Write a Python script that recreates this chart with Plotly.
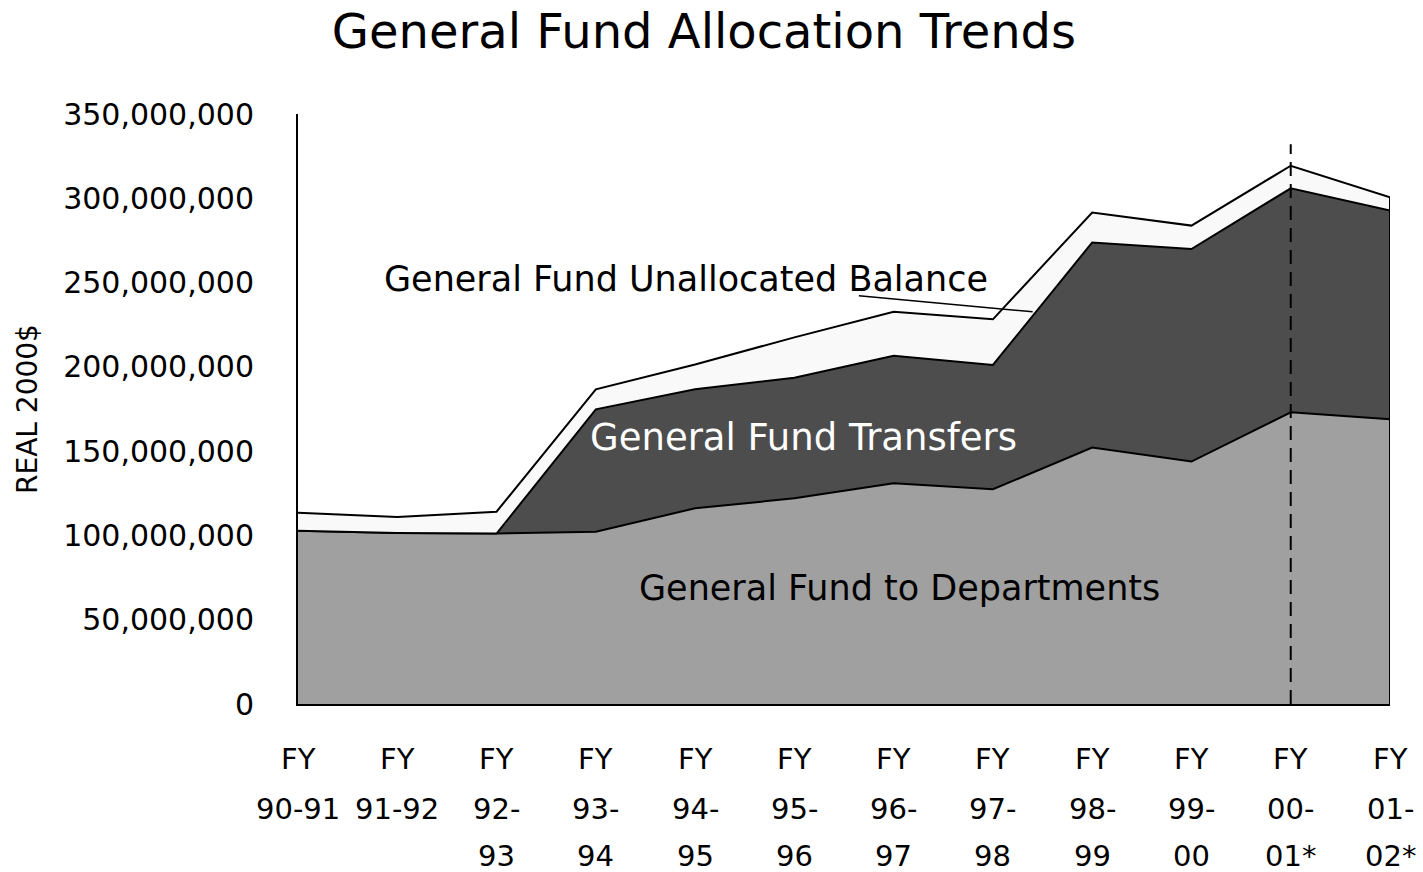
import plotly.graph_objects as go

categories = ["FY 90-91", "FY 91-92", "FY 92-93", "FY 93-94", "FY 94-95", "FY 95-96",
              "FY 96-97", "FY 97-98", "FY 98-99", "FY 99-00", "FY 00-01*", "FY 01-02*"]
label_lines = [["FY", "90-91", ""], ["FY", "91-92", ""], ["FY", "92-", "93"], ["FY", "93-", "94"],
               ["FY", "94-", "95"], ["FY", "95-", "96"], ["FY", "96-", "97"], ["FY", "97-", "98"],
               ["FY", "98-", "99"], ["FY", "99-", "00"], ["FY", "00-", "01*"], ["FY", "01-", "02*"]]

departments = [102_800_000, 101_400_000, 101_100_000, 102_200_000, 116_100_000, 122_000_000,
               130_900_000, 127_400_000, 152_100_000, 143_800_000, 173_000_000, 168_900_000]
transfers = [0, 0, 0, 72_600_000, 70_600_000, 71_600_000,
             75_700_000, 73_700_000, 121_700_000, 126_100_000, 132_900_000, 123_800_000]
unallocated = [10_700_000, 9_600_000, 13_000_000, 11_900_000, 14_700_000, 23_900_000,
               26_100_000, 27_100_000, 17_800_000, 13_900_000, 13_400_000, 7_900_000]

y_ticks = [0, 50_000_000, 100_000_000, 150_000_000, 200_000_000, 250_000_000, 300_000_000, 350_000_000]

FONT = "DejaVu Sans"
fig = go.Figure()
for name, vals, color in [("General Fund to Departments", departments, "#A0A0A0"),
                          ("General Fund Transfers", transfers, "#4D4D4D"),
                          ("General Fund Unallocated Balance", unallocated, "#F9F9F9")]:
    fig.add_trace(go.Scatter(x=categories, y=vals, name=name, stackgroup="one", mode="lines",
                             line=dict(color="black", width=2), fillcolor=color))

totals = [d + t + u for d, t, u in zip(departments, transfers, unallocated)]

# right edge border of the stacked areas
fig.add_shape(type="line", xref="x", yref="y", x0=len(categories) - 1, x1=len(categories) - 1,
              y0=0, y1=totals[-1], line=dict(color="black", width=2))
# dashed marker at FY 00-01
fig.add_shape(type="line", xref="x", yref="y", x0=10, x1=10, y0=0, y1=332_000_000,
              line=dict(color="black", width=2, dash="14px,8px"))
# leader line for the unallocated balance label
fig.add_shape(type="line", xref="x", yref="y", x0=5.65, x1=7.40, y0=242_200_000, y1=232_700_000,
              line=dict(color="black", width=1.5))

fig.add_annotation(x=3.91, y=252_000_000, text="General Fund Unallocated Balance", showarrow=False,
                   font=dict(family=FONT, size=35, color="black"))
fig.add_annotation(x=5.09, y=158_000_000, text="General Fund Transfers", showarrow=False,
                   font=dict(family=FONT, size=37, color="white"))
fig.add_annotation(x=6.06, y=69_000_000, text="General Fund to Departments", showarrow=False,
                   font=dict(family=FONT, size=35, color="black"))

shifts = [-55, -105, -152]
for i, lines in enumerate(label_lines):
    for line, s in zip(lines, shifts):
        if line:
            fig.add_annotation(x=i, y=0, xref="x", yref="paper", yanchor="middle", yshift=s,
                               text=line, showarrow=False,
                               font=dict(family=FONT, size=29, color="black"))

fig.update_layout(
    width=1423, height=872,
    margin=dict(l=298, r=33, t=114, b=168),
    paper_bgcolor="white", plot_bgcolor="white",
    showlegend=False,
    title=dict(text="General Fund Allocation Trends", x=0.4947, xanchor="center",
               y=1 - 31 / 872, yanchor="middle", yref="container",
               font=dict(family=FONT, size=48, color="black")),
    xaxis=dict(type="category", range=[0, len(categories) - 1], showticklabels=False,
               showgrid=False, zeroline=False, showline=True, linecolor="black", linewidth=2,
               ticks=""),
    yaxis=dict(range=[0, 350_000_000], tickvals=y_ticks, tickformat=",d",
               showgrid=False, zeroline=False, showline=True, linecolor="black", linewidth=2,
               ticks="", ticklabelstandoff=36,
               tickfont=dict(family=FONT, size=30, color="black"),
               title=dict(text="REAL 2000$", font=dict(family=FONT, size=28, color="black"),
                          standoff=17)),
)
fig.write_html("out.html", config={"displayModeBar": False},
               post_script="document.body.style.margin='0';")
